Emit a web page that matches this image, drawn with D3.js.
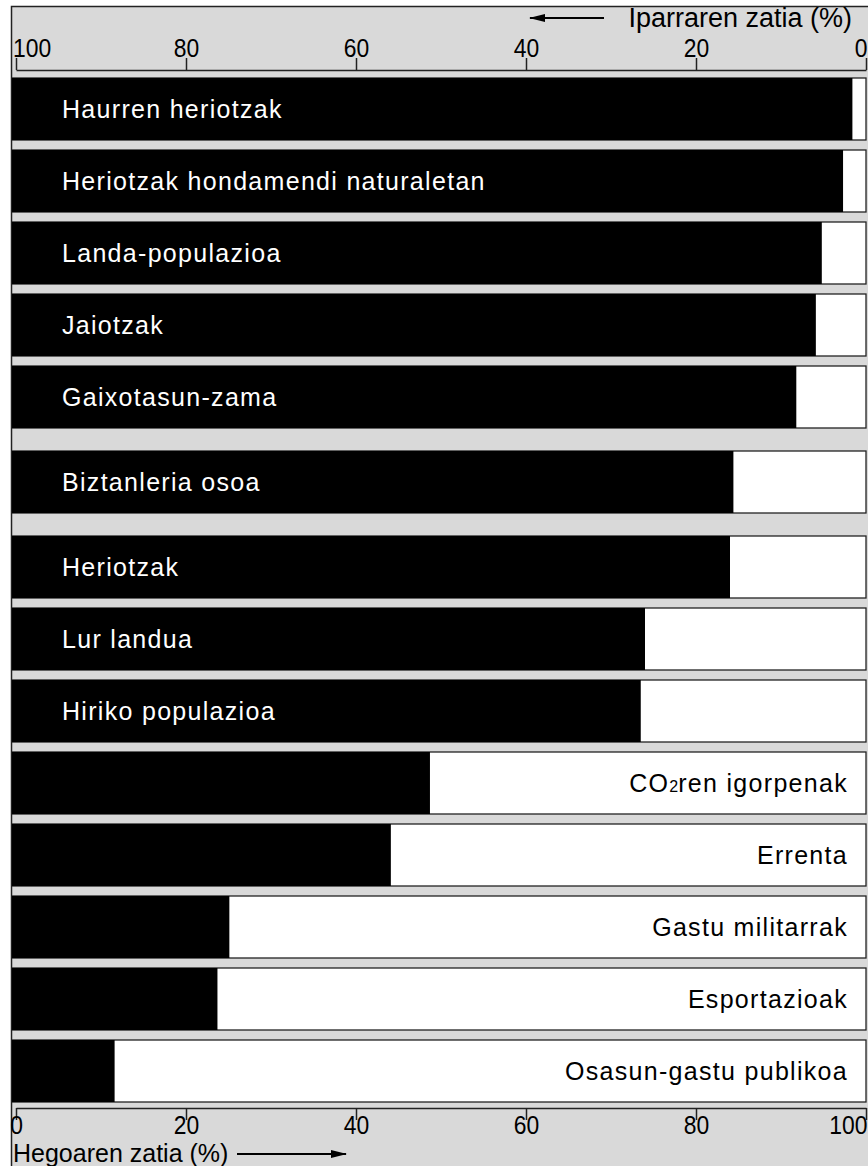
<!DOCTYPE html>
<html><head><meta charset="utf-8">
<script src="https://cdn.jsdelivr.net/npm/d3@7/dist/d3.min.js"></script>
<style>
html,body{margin:0;padding:0;background:#fff;}
svg{display:block;}
</style></head>
<body>
<svg id="chart" width="868" height="1166"></svg>
<script>
// ---- data ----
const categories = [
  "Haurren heriotzak",
  "Heriotzak hondamendi naturaletan",
  "Landa-populazioa",
  "Jaiotzak",
  "Gaixotasun-zama",
  "Biztanleria osoa",
  "Heriotzak",
  "Lur landua",
  "Hiriko populazioa",
  "CO2ren igorpenak",
  "Errenta",
  "Gastu militarrak",
  "Esportazioak",
  "Osasun-gastu publikoa"
];
// Hegoaren zatia (%) — South share
const southShare = [98.4, 97.3, 94.8, 94.1, 91.8, 84.4, 84.0, 74.0, 73.5, 48.7, 44.1, 25.1, 23.7, 11.6];
const groups = [0,0,0,0,0,1,2,2,2,2,2,2,2,2];
const tickValues = [0, 20, 40, 60, 80, 100];
const topTitle = "Iparraren zatia (%)";
const bottomTitle = "Hegoaren zatia (%)";

// ---- drawing ----
const svg = d3.select("#chart");
const W = 868, H = 1166;
const frameX = 11.5, frameY = 6.5;
const x0 = 16, x1 = 866;
const barLeft = 12;
const groupGap = 13;
const font = '"Liberation Sans", Arial, Helvetica, sans-serif';
const tickScaleX = 0.88;

svg.append("rect").attr("x", frameX).attr("y", frameY)
  .attr("width", W + 10).attr("height", H + 10)
  .attr("fill", "#d9d9d9").attr("stroke", "#222").attr("stroke-width", 1.5);

const xBottom = d3.scaleLinear().domain([0, 100]).range([x0, x1]);
const xTop = d3.scaleLinear().domain([100, 0]).range([x0, x1]);

const y = d3.scaleBand().domain(categories)
  .range([78, 78 + 14 * 72 - 10])
  .paddingInner(10 / 72).paddingOuter(0);

const rows = categories.map((c, i) => ({ name: c, v: southShare[i], g: groups[i] }));
const rowTop = d => y(d.name) + d.g * groupGap;

const bar = svg.append("g").selectAll("g").data(rows).join("g");

bar.append("rect")
  .attr("x", barLeft).attr("y", rowTop)
  .attr("width", x1 - barLeft).attr("height", y.bandwidth())
  .attr("fill", "#fff").attr("stroke", "#222").attr("stroke-width", 1.3);

bar.append("rect")
  .attr("x", barLeft).attr("y", rowTop)
  .attr("width", d => xBottom(d.v) - barLeft).attr("height", y.bandwidth())
  .attr("fill", "#000");

bar.append("text")
  .attr("x", d => d.v > 50 ? 62 : 848)
  .attr("y", d => rowTop(d) + y.bandwidth() / 2)
  .attr("dy", "0.36em")
  .attr("text-anchor", d => d.v > 50 ? "start" : "end")
  .attr("fill", d => d.v > 50 ? "#fff" : "#000")
  .style("font-family", font)
  .style("font-size", "25px")
  .style("letter-spacing", "1.3px")
  .each(function(d) {
    const t = d3.select(this);
    const m = d.name.match(/^(CO)2(.*)$/);
    if (m) {
      t.append("tspan").text(m[1]);
      t.append("tspan").text("2").style("font-size", "16px").style("letter-spacing", "0px");
      t.append("tspan").text(m[2]);
    } else {
      t.text(d.name);
    }
  });

// top axis
const topY = 70;
const gTop = svg.append("g").attr("transform", `translate(0,${topY})`)
  .call(d3.axisTop(xTop).tickValues(tickValues).tickSize(12).tickSizeOuter(0).tickPadding(1).tickFormat(d3.format("d")));
// bottom axis
const botY = 1108;
const gBot = svg.append("g").attr("transform", `translate(0,${botY})`)
  .call(d3.axisBottom(xBottom).tickValues(tickValues).tickSize(12).tickSizeOuter(0).tickPadding(-4.5).tickFormat(d3.format("d")));

[gTop, gBot].forEach(g => {
  g.select(".domain").attr("stroke", "#222").attr("stroke-width", 1.5);
  g.selectAll(".tick line").attr("stroke", "#222").attr("stroke-width", 1.5);
  g.selectAll(".tick text").attr("fill", "#000")
    .style("font-family", font).style("font-size", "26px")
    .attr("transform", `scale(${tickScaleX},1)`);
});
gTop.selectAll(".tick text").attr("text-anchor", d => d === 100 ? "start" : d === 0 ? "end" : "middle")
  .attr("dx", d => d === 100 ? -4 : d === 0 ? 1 : 0);
gBot.selectAll(".tick text").attr("text-anchor", d => d === 100 ? "end" : "middle")
  .attr("dx", d => d === 100 ? 1 : 0);

// arrow marker
const defs = svg.append("defs");
defs.append("marker").attr("id", "ah").attr("viewBox", "0 0 16 8")
  .attr("refX", 15).attr("refY", 4).attr("markerWidth", 16).attr("markerHeight", 8)
  .attr("markerUnits", "userSpaceOnUse").attr("orient", "auto")
  .append("path").attr("d", "M0,0 L16,4 L0,8 Z").attr("fill", "#000");

// top title + arrow
svg.append("text").attr("x", 852).attr("y", 27).attr("text-anchor", "end")
  .style("font-family", font).style("font-size", "27px").text(topTitle);
svg.append("line").attr("x1", 604).attr("y1", 18).attr("x2", 530).attr("y2", 18)
  .attr("stroke", "#000").attr("stroke-width", 1.8).attr("marker-end", "url(#ah)");

// bottom title + arrow
svg.append("text").attr("x", 13).attr("y", 1162)
  .style("font-family", font).style("font-size", "25px").text(bottomTitle);
svg.append("line").attr("x1", 237).attr("y1", 1154).attr("x2", 346).attr("y2", 1154)
  .attr("stroke", "#000").attr("stroke-width", 1.8).attr("marker-end", "url(#ah)");
</script>
</body></html>
